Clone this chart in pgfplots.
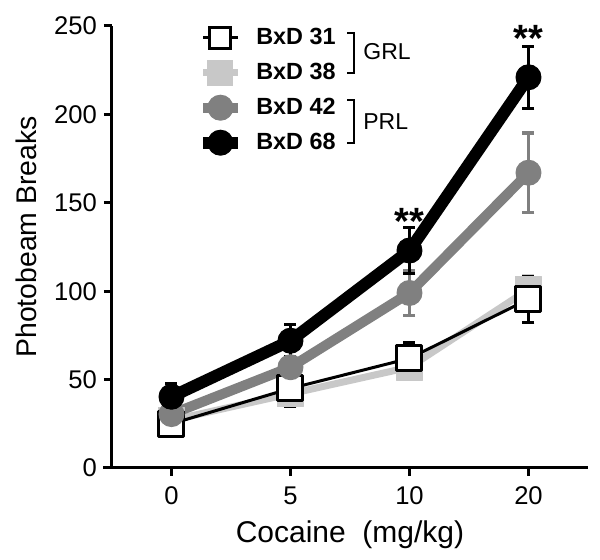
\documentclass[border=0pt]{standalone}
\usepackage{fontspec}
\setmainfont{Liberation Sans}
\usepackage{pgfplots}
\usepackage{pgfplotstable}
\pgfplotsset{compat=1.18}
\definecolor{gA}{HTML}{808080}
\definecolor{gB}{HTML}{C8C8C8}
\pgfplotstableread{
x y e
0 27 3
1 42 5
2 57 5
3 101 8
}\dataB
\pgfplotstableread{
x y e
0 25 3
1 45 10
2 62 9
3 95.5 13
}\dataA
\pgfplotstableread{
x y e
0 30.5 4
1 57 6
2 99 12.7
3 167 22.5
}\dataC
\pgfplotstableread{
x y e
0 40.3 7.5
1 72 9
2 123 13
3 221 17.5
}\dataD
\begin{document}
\begin{tikzpicture}
\useasboundingbox (-56pt,-46pt) rectangle (244pt,234pt);
\begin{axis}[
 at={(0,0)}, anchor=south west, scale only axis, width=238pt, height=221pt,
 xmin=-0.5, xmax=3.5, ymin=0, ymax=250,
 axis x line*=bottom, axis y line*=left,
 axis line style={line width=1.5pt, -},
 xtick={0,1,2,3}, xticklabels={0,5,10,20},
 ytick={0,50,...,250},
 tick align=outside, major tick length=4pt,
 tick style={line width=1.5pt, black},
 ticklabel style={font=\fontsize{12.8}{15}\selectfont},
 xticklabel style={yshift=-2pt},
 /pgf/number format/assume math mode=true,
 xlabel={Cocaine\ \ (mg/kg)}, ylabel={Photobeam Breaks},
 every axis x label/.style={at={(axis description cs:0.5,-0.1697)}, anchor=base, font=\fontsize{15}{18}\selectfont},
 every axis y label/.style={at={(axis description cs:-0.1582,0.523)}, anchor=base, rotate=90, font=\fontsize{14.2}{17}\selectfont},
 clip=false,
 legend style={at={(axis cs:0.214,253.5)}, anchor=north west, draw=none, fill=none,
   inner sep=0pt, nodes={inner sep=0pt, minimum height=17.5pt},
   font=\fontsize{11.7}{14}\selectfont\bfseries, row sep=0pt,
   /tikz/every odd column/.append style={column sep=6.4pt}},
 legend cell align=left,
 error bars/y dir=both, error bars/y explicit,
]
\addlegendimage{black, line width=1.5pt, mark=square*, mark size=5.25pt, mark options={fill=white, draw=black, line width=1.5pt}}
\addlegendentry{BxD 31}
\addlegendimage{gB, line width=3.5pt, mark=square*, mark size=6.25pt, mark options={fill=gB, draw=gB, line width=0.5pt}}
\addlegendentry{BxD 38}
\addlegendimage{gA, line width=5pt, mark=*, mark size=6.25pt, mark options={fill=gA, draw=gA, line width=0.5pt}}
\addlegendentry{BxD 42}
\addlegendimage{black, line width=6pt, mark=*, mark size=6.25pt, mark options={fill=black, draw=black, line width=0.5pt}}
\addlegendentry{BxD 68}

\addplot[forget plot, gB, line width=3.5pt, line join=round, mark=square*, mark size=6.5pt,
  mark options={fill=gB, draw=gB, line width=0.5pt},
  error bars/error bar style={line width=1.5pt, gB},
  error bars/error mark options={rotate=90, line width=1.5pt, gB, mark size=3pt}]
  table[x=x, y=y, y error=e] {\dataB};
\addplot[forget plot, black, line width=1.5pt, line join=round, mark=square*, mark size=6.25pt,
  mark options={fill=white, draw=black, line width=1.5pt},
  error bars/error bar style={line width=1.5pt, black},
  error bars/error mark options={rotate=90, line width=1.5pt, black, mark size=3pt}]
  table[x=x, y=y, y error=e] {\dataA};
\addplot[forget plot, gA, line width=5pt, line join=round, mark=*, mark size=6.25pt,
  mark options={fill=gA, draw=gA, line width=0.5pt},
  error bars/error bar style={line width=1.7pt, gA},
  error bars/error mark options={rotate=90, line width=1.7pt, gA, mark size=3pt}]
  table[x=x, y=y, y error=e] {\dataC};
\addplot[forget plot, black, line width=6pt, line join=round, mark=*, mark size=6.25pt,
  mark options={fill=black, draw=black, line width=0.5pt},
  error bars/error bar style={line width=1.5pt, black},
  error bars/error mark options={rotate=90, line width=1.5pt, black, mark size=3pt}]
  table[x=x, y=y, y error=e] {\dataD};

\draw[line width=1.5pt] (axis cs:-0.575,0) -- (axis cs:-0.5,0);
\draw[line width=1pt] (axis cs:1.475,245.9) -- (axis cs:1.534,245.9) -- (axis cs:1.534,223.3) -- (axis cs:1.475,223.3);
\draw[line width=1pt] (axis cs:1.475,208) -- (axis cs:1.534,208) -- (axis cs:1.534,183.7) -- (axis cs:1.475,183.7);
\node[anchor=west, font=\fontsize{11.5}{13}\selectfont, inner sep=0pt] at (axis cs:1.609,235.5) {GRL};
\node[anchor=west, font=\fontsize{11.5}{13}\selectfont, inner sep=0pt] at (axis cs:1.609,196.2) {PRL};
\node[anchor=base, font=\fontsize{19}{19}\selectfont\bfseries, inner sep=0pt] at (axis cs:3,235.5) {**};
\node[anchor=base, font=\fontsize{19}{19}\selectfont\bfseries, inner sep=0pt] at (axis cs:2,132) {**};
\end{axis}
\end{tikzpicture}
\end{document}
